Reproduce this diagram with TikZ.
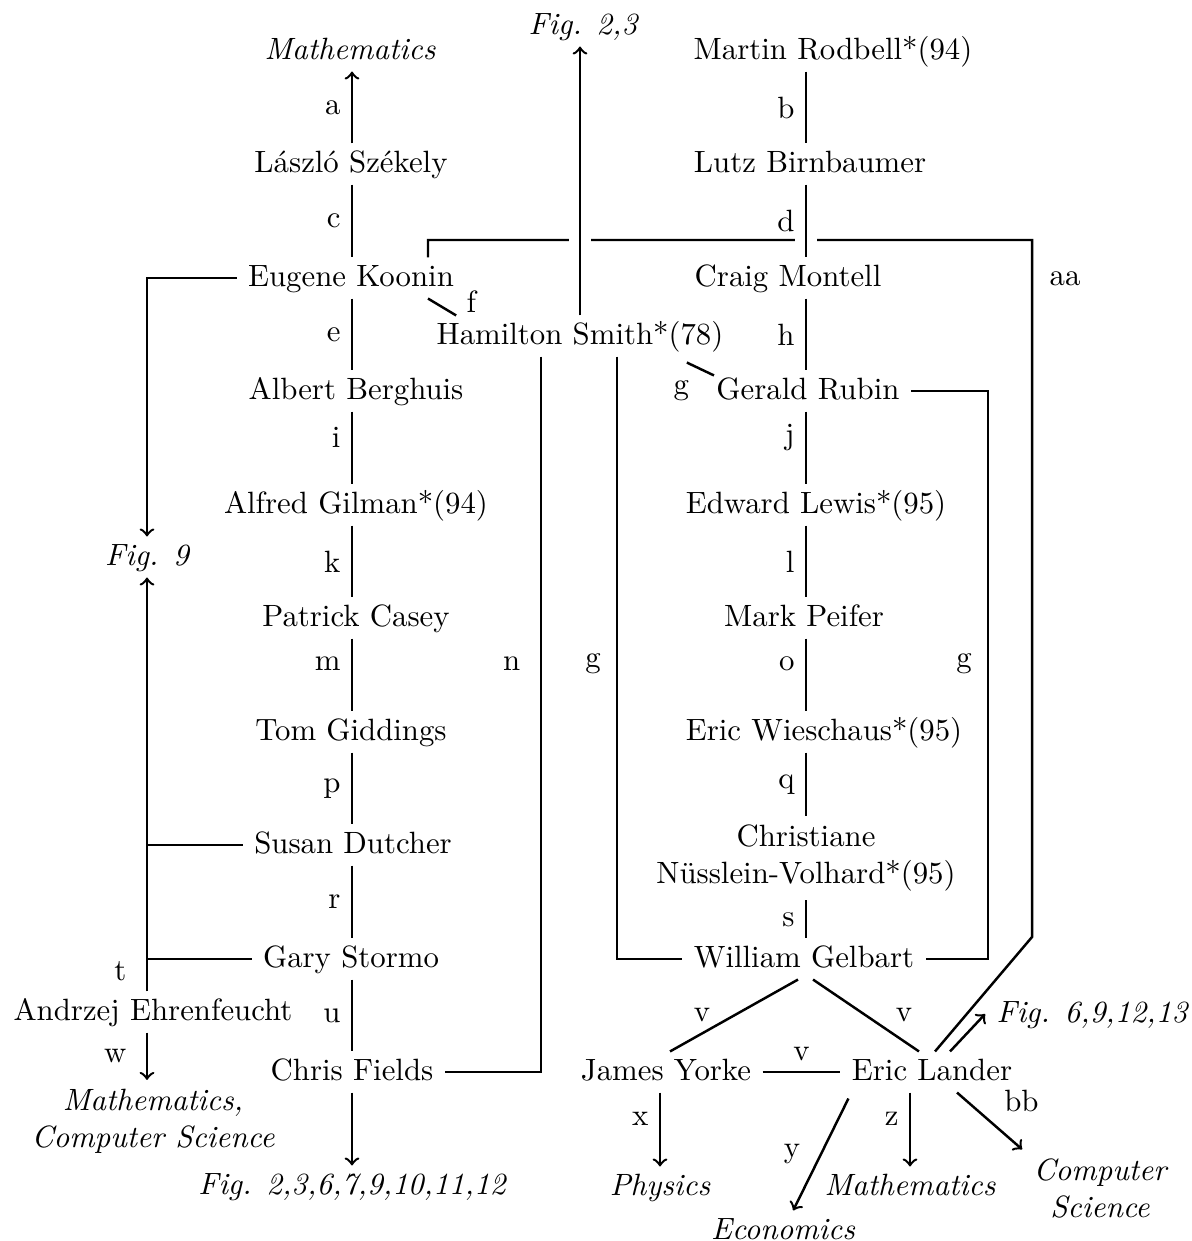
\documentclass[tikz,border=0pt]{standalone}
\usetikzlibrary{calc}
\tikzset{
  person/.style={inner ysep=2.5pt, text height=1.5ex, text depth=.25ex},
  subject/.style={person, font=\itshape},
  twoline/.style={align=center, inner ysep=2.5pt},
  bridge/.style={preaction={draw=white, line width=7pt, -}}
}
\begin{document}
\begin{tikzpicture}[x=1.141cm, y=-1.141cm, thick]
            \useasboundingbox (0,0) rectangle (11.91,12.41);
            \coordinate (lcol) at (3.52,0);
            \coordinate (rcol) at (8.06,0);

            \node[subject] (mathtop) at (3.50,0.51) {Mathematics};
            \node[person] (szekely) at (3.51,1.64) {László Székely};
            \node[person] (koonin) at (3.51,2.78) {Eugene Koonin};
            \node[person] (berghuis) at (3.56,3.91) {Albert Berghuis};
            \node[person] (gilman) at (3.56,5.05) {Alfred Gilman*(94)};
            \node[person] (casey) at (3.56,6.18) {Patrick Casey};
            \node[person] (giddings) at (3.51,7.32) {Tom Giddings};
            \node[person] (dutcher) at (3.53,8.45) {Susan Dutcher};
            \node[person] (stormo) at (3.51,9.59) {Gary Stormo};
            \node[person] (fields) at (3.52,10.72) {Chris Fields};
            \node[subject] (figbot) at (3.52,11.86) {Fig. 2,3,6,7,9,10,11,12};

            \node[subject] (fig23) at (5.83,0.26) {Fig. 2,3};
            \node[person] (smith) at (5.80,3.36) {Hamilton Smith*(78)};
            \node[subject] (fig9) at (1.47,5.57) {Fig. 9};
            \node[person] (ehren) at (1.53,10.12) {Andrzej Ehrenfeucht};
            \node[twoline, font=\itshape] (mathcs) at (1.53,11.21) {Mathematics,\\Computer Science};

            \node[person] (rodbell) at (8.33,0.51) {Martin Rodbell*(94)};
            \node[person] (birnbaumer) at (8.10,1.64) {Lutz Birnbaumer};
            \node[person] (montell) at (7.88,2.78) {Craig Montell};
            \node[person] (rubin) at (8.08,3.91) {Gerald Rubin};
            \node[person] (lewis) at (8.16,5.05) {Edward Lewis*(95)};
            \node[person] (peifer) at (8.04,6.18) {Mark Peifer};
            \node[person] (wieschaus) at (8.24,7.32) {Eric Wieschaus*(95)};
            \node[twoline] (nusslein) at (8.06,8.58) {Christiane\\Nüsslein-Volhard*(95)};
            \node[person] (gelbart) at (8.04,9.59) {William Gelbart};
            \node[person] (yorke) at (6.66,10.72) {James Yorke};
            \node[person] (lander) at (9.32,10.72) {Eric Lander};
            \node[subject] (fig6) at (10.92,10.14) {Fig. 6,9,12,13};
            \node[subject] (physics) at (6.60,11.87) {Physics};
            \node[subject] (economics) at (7.83,12.31) {Economics};
            \node[subject] (mathright) at (9.10,11.87) {Mathematics};
            \node[twoline, font=\itshape] (compsci) at (11.00,11.88) {Computer\\Science};

            \coordinate (aa1) at (10.32,2.40);
            \coordinate (aa2) at (10.32,9.37);
            \coordinate (rg) at (9.88,9.59);
            \draw ($(koonin.north)+(.77,0)$) |- (aa1)
                -- node[right=2pt, pos=.055] {aa} (aa2)
                -- ($(lander.north)+(.03,0)$);

            \draw[->] (szekely.north -| lcol) -- node[left] {a} (mathtop.south -| lcol);
            \draw (szekely.south -| lcol) -- node[left] {c} (koonin.north -| lcol);
            \draw (koonin.south -| lcol) -- node[left] {e} (berghuis.north -| lcol);
            \draw (berghuis.south -| lcol) -- node[left, pos=.35] {i} (gilman.north -| lcol);
            \draw (gilman.south -| lcol) -- node[left] {k} (casey.north -| lcol);
            \draw (casey.south -| lcol) -- node[left, pos=.35] {m} (giddings.north -| lcol);
            \draw (giddings.south -| lcol) -- node[left] {p} (dutcher.north -| lcol);
            \draw (dutcher.south -| lcol) -- node[left] {r} (stormo.north -| lcol);
            \draw (stormo.south -| lcol) -- node[left] {u} (fields.north -| lcol);
            \draw[->] (fields.south -| lcol) -- (figbot.north -| lcol);

            \draw[->] (koonin) -| (fig9);
            \draw[->] (ehren.north -| fig9) -- node[left=3pt, pos=.05] {t} (fig9);
            \draw (dutcher) -- (dutcher -| fig9);
            \draw (stormo) -- (stormo -| fig9);
            \draw[->] (ehren.south -| fig9) -- node[left=3pt] {w} (mathcs.north -| fig9);

            \draw[->, bridge] (smith) -- (smith |- fig23.south);
            \draw ($(koonin.south)+(.77,0)$) -- node[right=7pt, pos=.2] {f} ($(smith.north west)+(.31,0)$);
            \draw ($(smith.south east)+(-.48,.06)$) -- node[below left] {g} ($(rubin.north west)+(.09,.05)$);
            \draw ($(smith.south)+(-.39,0)$) |- node[left=3pt, pos=.215] {n} (fields);
            \draw ($(smith.south)+(.37,0)$) |- node[left=1.5pt, pos=.255] {g} (gelbart);
            \draw (rubin) -| node[left=1.5pt, pos=.74] {g} (rg) -- (gelbart);

            \draw (rodbell.south -| rcol) -- node[left] {b} (birnbaumer.north -| rcol);
            \draw[bridge] (birnbaumer.south -| rcol) -- node[left] {d} (montell.north -| rcol);
            \draw (montell.south -| rcol) -- node[left] {h} (rubin.north -| rcol);
            \draw (rubin.south -| rcol) -- node[left, pos=.35] {j} (lewis.north -| rcol);
            \draw (lewis.south -| rcol) -- node[left] {l} (peifer.north -| rcol);
            \draw (peifer.south -| rcol) -- node[left, pos=.35] {o} (wieschaus.north -| rcol);
            \draw (wieschaus.south -| rcol) -- node[left] {q} (nusslein.north -| rcol);
            \draw (nusslein.south -| rcol) -- node[left] {s} (gelbart.north -| rcol);

            \draw ($(gelbart.south)+(-.06,0)$) -- node[left=4pt] {v} ($(yorke.north)+(.04,0)$);
            \draw ($(gelbart.south)+(.09,0)$) -- node[right=6pt] {v} ($(lander.north)+(-.13,0)$);
            \draw (yorke) -- node[above] {v} (lander);
            \draw[->] ($(lander.north)+(.18,0)$) -- (fig6.west);
            \draw[->] (yorke.south -| physics) -- node[left, pos=.35] {x} (physics);
            \draw[->] ($(lander.south west)+(.08,.06)$) -- node[left=3pt] {y} (economics);
            \draw[->] (mathright |- lander.south) -- node[left, pos=.35] {z} (mathright);
            \draw[->] ($(lander.south)+(.25,0)$) -- node[above right, pos=.55] {bb} (compsci.north west);
        \end{tikzpicture}
\end{document}
